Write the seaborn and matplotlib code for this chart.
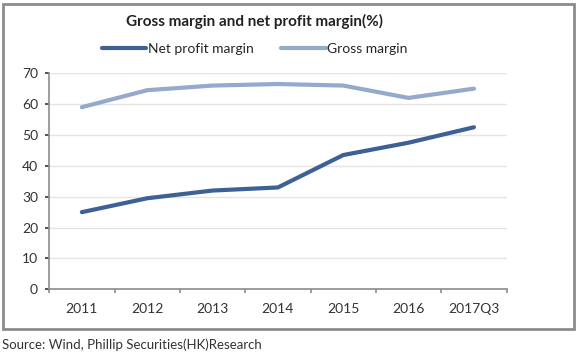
import pandas as pd
import matplotlib.pyplot as plt
import seaborn as sns
from matplotlib.patches import Rectangle

# Values
years = ["2011", "2012", "2013", "2014", "2015", "2016", "2017Q3"]
net_profit_margin = [25.0, 29.5, 32.0, 33.0, 43.5, 47.5, 52.5]
gross_margin = [59.0, 64.5, 66.0, 66.5, 66.0, 62.0, 65.0]

sns.set_style("white")
plt.rcParams["font.family"] = ["Lato", "DejaVu Sans"]

df = pd.DataFrame({
    "Year": years * 2,
    "Margin": net_profit_margin + gross_margin,
    "Series": ["Net profit margin"] * len(years) + ["Gross margin"] * len(years),
})

fig = plt.figure(figsize=(5.79, 3.52), dpi=100)
ax = fig.add_axes([0.085, 0.178, 0.79, 0.614])

palette = {"Net profit margin": "#3d6096", "Gross margin": "#95a9cc"}
sns.lineplot(data=df, x="Year", y="Margin", hue="Series", palette=palette,
             linewidth=3.0, sort=False, ax=ax, legend=False)

ax.set_xlim(-0.5, len(years) - 0.5)
ax.set_ylim(0, 70)
ax.set_yticks(range(0, 71, 10))
ax.set_xlabel("")
ax.set_ylabel("")
ax.yaxis.grid(True, color="#e4e4e4", linewidth=1)
ax.set_axisbelow(True)

for side in ["top", "right"]:
    ax.spines[side].set_visible(False)
for side in ["left", "bottom"]:
    ax.spines[side].set_color("#8c8c8c")
    ax.spines[side].set_linewidth(1.2)

# category ticks sit between the labels, Excel style
ax.set_xticks([i - 0.5 for i in range(len(years) + 1)], minor=True)
ax.tick_params(axis="x", which="both", bottom=True)
ax.tick_params(axis="x", which="major", length=0, pad=10, labelsize=10, colors="#333333")
ax.tick_params(axis="x", which="minor", length=3, width=1.2, color="#8c8c8c", direction="out")
ax.tick_params(axis="y", left=True, length=3, width=1.2, direction="out", labelsize=10,
               pad=5, colors="#333333")
for t in ax.get_yticklines():
    t.set_color("#8c8c8c")

# legend
handles = [plt.Line2D([], [], color=palette[s], linewidth=3.0) for s in palette]
fig.legend(handles, list(palette), loc="center", bbox_to_anchor=(0.44, 0.862),
           ncol=2, frameon=False, fontsize=10, handlelength=3.2,
           handletextpad=0.1, columnspacing=2.0)

fig.text(0.44, 0.94, "Gross margin and net profit margin(%)", ha="center",
         va="center", fontsize=11, fontweight="bold", color="#222222")

# outer chart border
fig.patches.append(Rectangle((0.006, 0.065), 0.985, 0.925, transform=fig.transFigure,
                             fill=False, edgecolor="#8c8c8c", linewidth=2))

fig.text(0.004, 0.022, "Source: Wind, Phillip Securities(HK)Research", ha="left",
         va="center", fontsize=9.5, color="#333333")

fig.savefig("out.png", dpi=100, facecolor="white")
